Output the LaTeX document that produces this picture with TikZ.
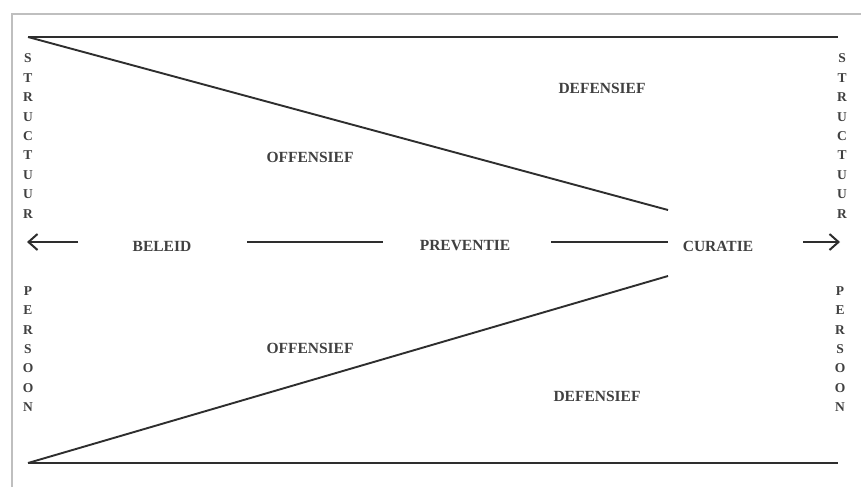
\documentclass[tikz,border=0pt]{standalone}
\usepackage{fontspec}
\setmainfont{Liberation Serif}
\usetikzlibrary{arrows.meta}
\begin{document}
\begin{tikzpicture}[x=1pt,y=-1pt,
  frame/.style={draw=black!25,line width=1.8pt},
  heavy/.style={draw=black!82,line width=1.9pt},
  word/.style={text=black!75,font=\fontsize{15.5}{17}\selectfont\bfseries,inner sep=1pt},
  column/.style={text=black!75,font=\fontsize{13.5}{19.4}\selectfont\bfseries,align=center,inner sep=0pt},
  barb/.style={heavy,-{Straight Barb[length=9pt,width=16pt,line width=2pt]}}]
  \useasboundingbox (0,0) rectangle (861,487);
  \fill[white] (0,0) rectangle (861,487);
  % outer frame (left and top edges only)
  \draw[frame] (12,487) -- (12,14) -- (861,14);

  % corner points of the wedges
  \coordinate (tl) at (28,37);
  \coordinate (tr) at (838,37);
  \coordinate (bl) at (28,463);
  \coordinate (br) at (838,463);
  \coordinate (tip1) at (668,210);
  \coordinate (tip2) at (668,276);

  \draw[heavy] (tl) -- (tr);
  \draw[heavy] (bl) -- (br);
  \draw[heavy] (tl) -- (tip1);
  \draw[heavy] (bl) -- (tip2);

  % middle axis
  \node[word] (beleid) at (162,246) {BELEID};
  \node[word] (preventie) at (465,246) {PREVENTIE};
  \node[word] (curatie) at (718,246) {CURATIE};

  \coordinate (la) at (78,242);
  \coordinate (lt) at (27,242);
  \coordinate (ra) at (803,242);
  \coordinate (rt) at (840,242);
  \coordinate (d1a) at (247,242);
  \coordinate (d1b) at (383,242);
  \coordinate (d2a) at (551,242);
  \coordinate (d2b) at (668,242);

  \draw[barb] (la) -- (lt);
  \draw[barb] (ra) -- (rt);
  \draw[heavy] (d1a) -- (d1b);
  \draw[heavy] (d2a) -- (d2b);

  % region labels
  \node[word] (def1) at (602,88) {DEFENSIEF};
  \node[word] (off1) at (310,157) {OFFENSIEF};
  \node[word] (off2) at (310,348) {OFFENSIEF};
  \node[word] (def2) at (597,396) {DEFENSIEF};

  % vertical side words
  \node[column] (sl) at (28,136) {S\\T\\R\\U\\C\\T\\U\\U\\R};
  \node[column] (sr) at (842,136) {S\\T\\R\\U\\C\\T\\U\\U\\R};
  \node[column] (pl) at (28,349) {P\\E\\R\\S\\O\\O\\N};
  \node[column] (pr) at (840,349) {P\\E\\R\\S\\O\\O\\N};
\end{tikzpicture}
\end{document}
